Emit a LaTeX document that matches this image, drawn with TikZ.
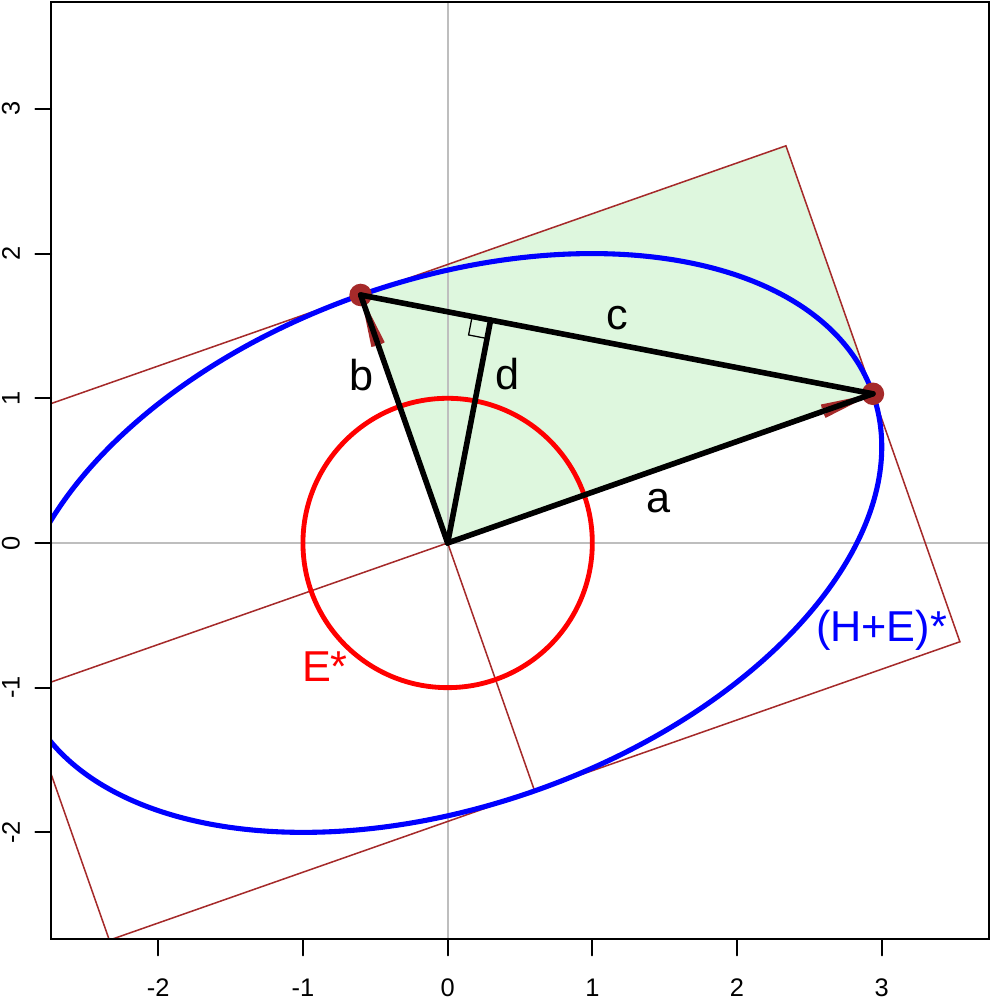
\documentclass[tikz,border=0pt]{standalone}
\usepackage{fontspec}
\setmainfont{Liberation Sans}
\usepackage{tikz}
\usetikzlibrary{arrows.meta,calc}
\definecolor{plotblue}{HTML}{0000FF}
\definecolor{plotred}{HTML}{FF0000}
\definecolor{rbrown}{HTML}{A52A2A}
\definecolor{greenbox}{HTML}{DEF7DE}
\definecolor{axisgray}{HTML}{BEBEBE}

\begin{document}
\begin{tikzpicture}[
  line cap=round,
  lbl/.style={inner sep=0pt,font=\fontsize{8.5}{10}\selectfont},
  ticklbl/.style={inner sep=0pt,font=\fontsize{5}{6}\selectfont},
  frame/.style={draw=black,line width=0.4pt},
  rect/.style={draw=rbrown,line width=0.3pt},
  vec/.style={draw=rbrown,line width=0.8pt,-{Straight Barb[length=2.6mm,width=0.7mm]}},
  seg/.style={draw=black,line width=1.1pt},
  pt/.style={fill=rbrown}
]
\useasboundingbox (-3.094,-3.152) rectangle (3.756,3.753);

% points of the ellipse (H+E)*
\coordinate (O) at (0,0);
\coordinate (A) at (2.9394,1.0311);
\coordinate (B) at (-0.6012,1.7140);
\coordinate (AB) at ($(A)+(B)$);
\coordinate (AmB) at ($(A)-(B)$);
\coordinate (mAB) at ($(O)-(A)-(B)$);
\coordinate (mApB) at ($(B)-(A)$);
\coordinate (mA) at ($(O)-(A)$);
\coordinate (mB) at ($(O)-(B)$);
\coordinate (F) at ($(B)!(O)!(A)$);

\begin{scope}
\clip (-2.74,-2.74) rectangle (3.74,3.74);
\fill[greenbox] (O) -- (A) -- (AB) -- (B) -- cycle;
\draw[axisgray,line width=0.35pt] (0,-2.74) -- (0,3.74);
\draw[axisgray,line width=0.35pt] (-2.74,0) -- (3.74,0);
\draw[rect] (AB) -- (AmB) -- (mAB) -- (mApB) -- cycle;
\draw[rect] (mA) -- (O) -- (mB);
\draw[plotblue,line width=1pt,rotate=19.33] (O) ellipse (3.1148 and 1.8162);
\draw[plotred,line width=0.95pt] (O) circle (1);
\draw[vec] (O) -- (A);
\draw[vec] (O) -- (B);
\fill[pt] (A) circle (0.078);
\fill[pt] (B) circle (0.078);
\draw[seg] (O) -- (A);
\draw[seg] (O) -- (B);
\draw[seg] (B) -- (A);
\draw[seg] (O) -- (F);
% right angle mark
\coordinate (F1) at ($(F)!0.13cm!(B)$);
\coordinate (F2) at ($(F)!0.13cm!(O)$);
\draw[line width=0.25pt] (F1) -- ($(F1)+(F2)-(F)$) -- (F2);
\end{scope}

% frame and axes
\draw[frame] (-2.74,-2.74) rectangle (3.74,3.74);
\foreach \x [count=\i] in {-2,...,3} {
  \draw[frame] (\x,-2.74) -- (\x,-2.85);
  \node[ticklbl] (xl\i) at (\x,-3.072) {\x};
}
\foreach \y [count=\i] in {-2,...,3} {
  \draw[frame] (-2.74,\y) -- (-2.85,\y);
  \node[ticklbl,rotate=90] (yl\i) at (-3.018,\y) {\y};
}

% labels
\node[lbl] (la) at (1.458,0.287) {a};
\node[lbl] (lb) at (-0.594,1.161) {b};
\node[lbl] (lc) at (1.171,1.555) {c};
\node[lbl] (ld) at (0.413,1.168) {d};
\node[lbl,text=plotred] (lE) at (-0.848,-0.854) {E*};
\node[lbl,text=plotblue] (lHE) at (2.999,-0.601) {(H+E)*};
\end{tikzpicture}
\end{document}
